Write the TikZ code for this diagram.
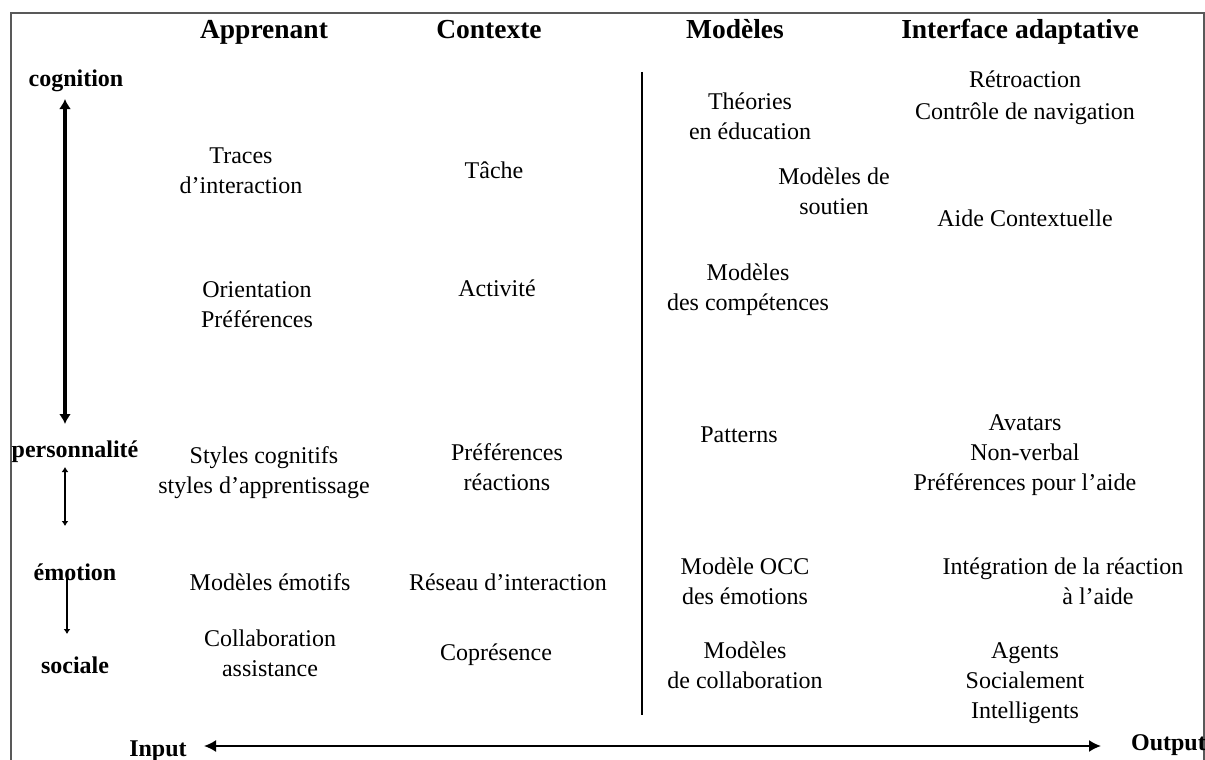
\documentclass[tikz,border=0pt]{standalone}
\usepackage{fontspec}
\setmainfont{Liberation Serif}
\usetikzlibrary{arrows.meta}
\begin{document}
\begin{tikzpicture}[x=1pt,y=-1pt,
  body/.style={font=\fontsize{24}{30}\selectfont, align=center, inner sep=0pt},
  head/.style={font=\fontsize{27.5}{32}\selectfont\bfseries, inner sep=0pt, anchor=base},
  side/.style={font=\fontsize{24}{28}\selectfont\bfseries, inner sep=0pt, anchor=base},
  bigarrow/.style={line width=3.2pt, {Latex[length=10pt,width=12pt]}-{Latex[length=10pt,width=12pt]}},
  smallarrow/.style={line width=1.4pt, {Latex[length=5pt,width=7pt]}-{Latex[length=5pt,width=7pt]}},
  frame/.style={draw=gray!70!black, line width=1.6pt}]
\useasboundingbox (0,0) rectangle (1205,760);
\draw[frame] (11,762) -- (11,13) -- (1204,13) -- (1204,762);

% headers
\node[head] (hA) at (264,39) {Apprenant};
\node[head] (hC) at (489,39) {Contexte};
\node[head] (hM) at (735,39) {Modèles};
\node[head] (hI) at (1020,39) {Interface adaptative};

% left labels
\node[side] (cog) at (76,87) {cognition};
\node[side] (pers) at (75,457) {personnalité};
\node[side] (emo) at (75,580) {émotion};
\node[side] (soc) at (75,673) {sociale};
\coordinate (c1) at (65,99);
\coordinate (c2) at (65,424);
\draw[bigarrow] (c1) -- (c2);
\coordinate (p1) at (65,467);
\coordinate (p2) at (65,526);
\draw[smallarrow] (p1) -- (p2);
\coordinate (e1) at (67,576);
\coordinate (e2) at (67,634);
\draw[line width=1.4pt, -{Latex[length=5pt,width=7pt]}] (e1) -- (e2);

% Apprenant column
\node[body] (a1) at (241,171) {Traces\\d’interaction};
\node[body] (a2) at (257,305) {Orientation\\Préférences};
\node[body] (a3) at (264,473) {Styles cognitifs\\styles d’apprentissage};
\node[body] (a4) at (270,582) {Modèles émotifs};
\node[body] (a5) at (270,653) {Collaboration\\assistance};

% Contexte column
\node[body] (b1) at (494,170) {Tâche};
\node[body] (b2) at (497,288) {Activité};
\node[body] (b3) at (507,467) {Préférences\\réactions};
\node[body] (b4) at (508,582) {Réseau d’interaction};
\node[body] (b5) at (496,655) {Coprésence};

% separator
\coordinate (s1) at (642,72);
\coordinate (s2) at (642,715);
\draw[line width=2.4pt] (s1) -- (s2);

% Modèles column
\node[body] (m1) at (750,116) {Théories\\en éducation};
\node[body] (m2) at (834,191) {Modèles de\\soutien};
\node[body] (m3) at (748,290) {Modèles\\des compétences};
\node[body] (m4) at (739,435) {Patterns};
\node[body] (m5) at (745,581) {Modèle OCC\\des émotions};
\node[body] (m6) at (745,665) {Modèles\\de collaboration};

% Interface column
\node[body, font=\fontsize{24}{32}\selectfont] (i1) at (1025,98) {Rétroaction\\Contrôle de navigation};
\node[body] (i2) at (1025,218) {Aide Contextuelle};
\node[body] (i3) at (1025,455) {Avatars\\Non-verbal\\Préférences pour l’aide};
\node[body] (i4) at (1063,581) {Intégration de la réaction\\\hspace*{70pt}à l’aide};
\node[body] (i5) at (1025,683) {Agents\\Socialement\\Intelligents};

% bottom
\node[side] (inp) at (158,756) {Input};
\node[side, anchor=base east] (out) at (1206,750) {Output};
\coordinate (l1) at (204,746);
\coordinate (l2) at (1101,746);
\draw[line width=1.8pt, {Latex[length=12pt,width=12pt]}-{Latex[length=12pt,width=12pt]}] (l1) -- (l2);
\end{tikzpicture}
\end{document}
